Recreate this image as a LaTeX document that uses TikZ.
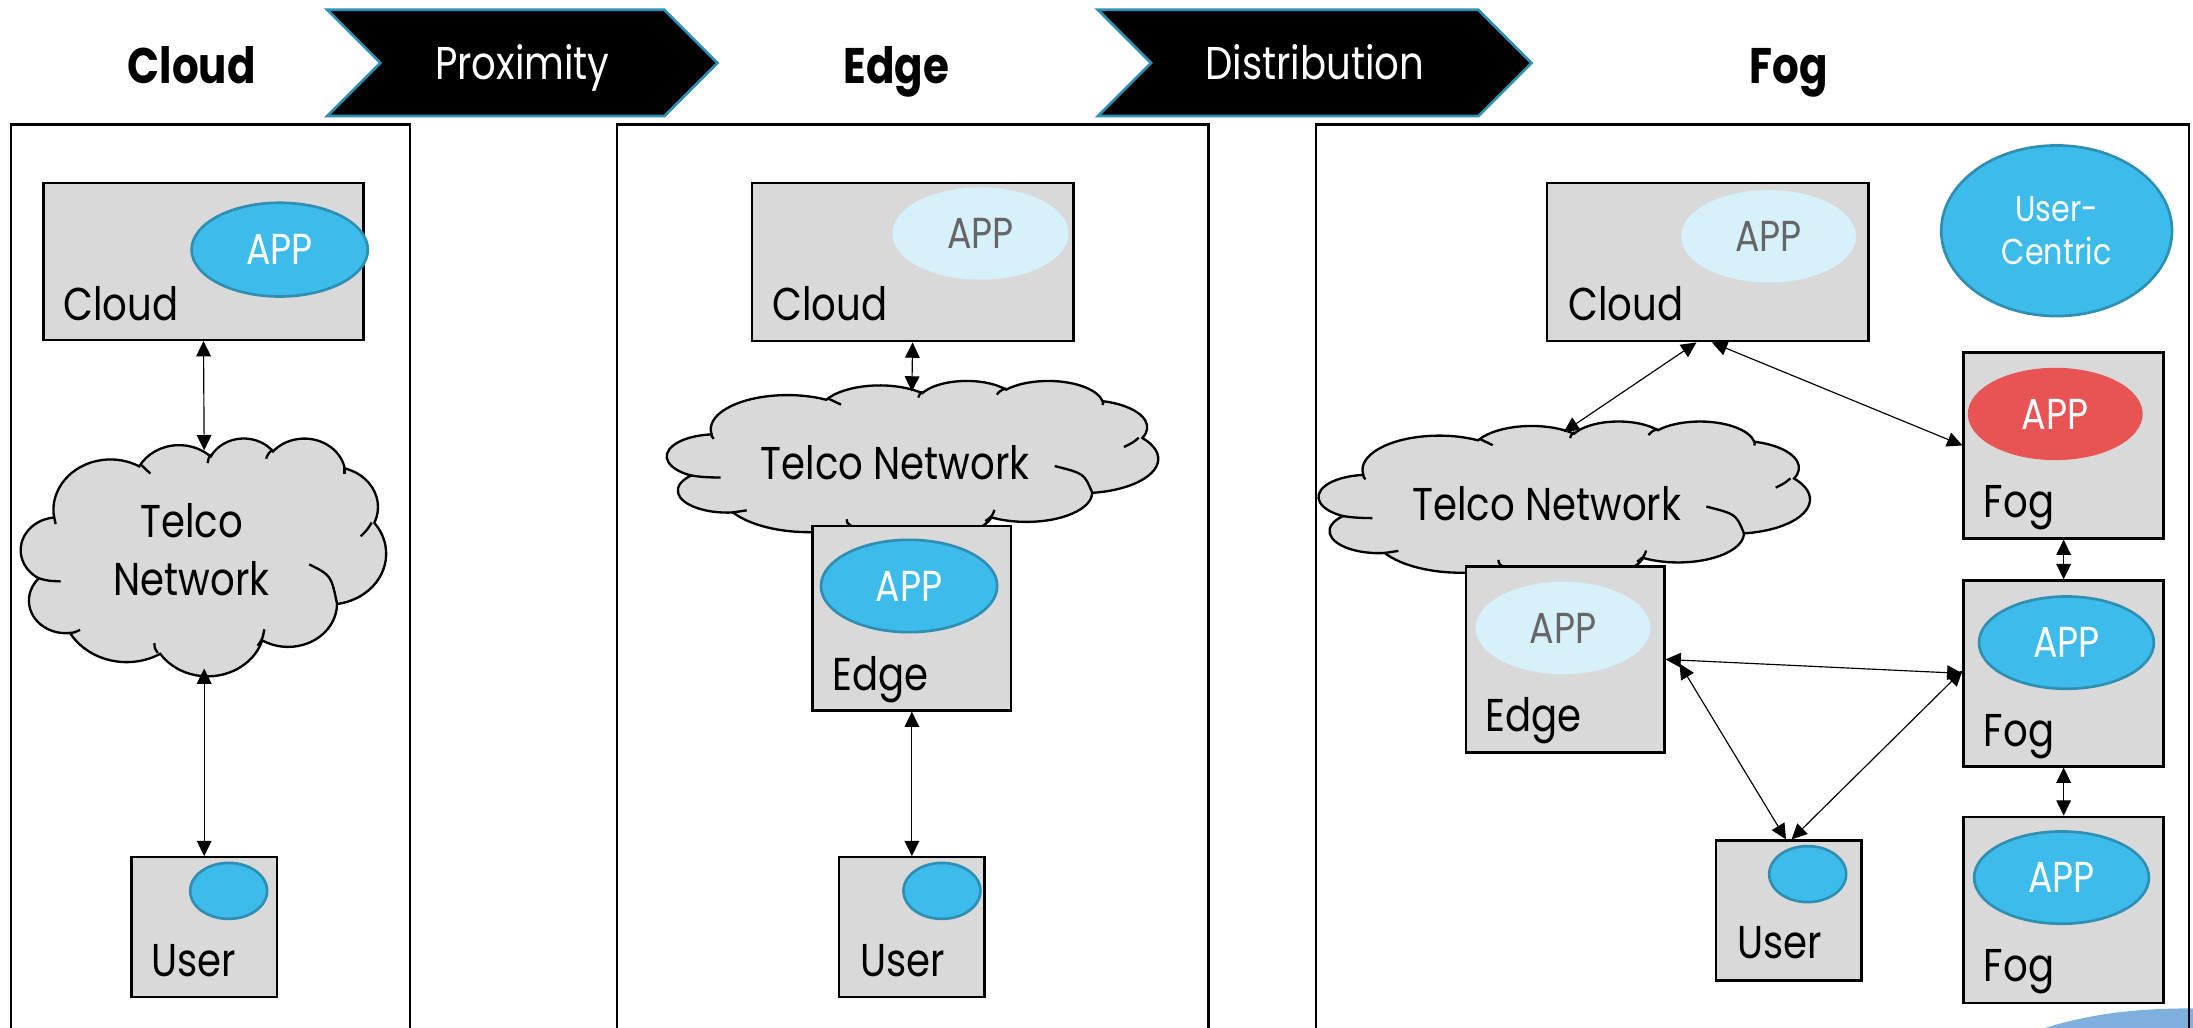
\documentclass[tikz,border=0pt]{standalone}
\usepackage{fontspec}
\setmainfont[FakeStretch=0.84]{Poppins}
\usetikzlibrary{arrows.meta,shapes.geometric}

\definecolor{boxgray}{HTML}{D9D9D9}
\definecolor{appblue}{HTML}{3DBCEC}
\definecolor{appedge}{HTML}{2E8FB3}
\definecolor{applight}{HTML}{D7F1FB}
\definecolor{appred}{HTML}{E85454}
\definecolor{apptext}{HTML}{666666}
\definecolor{cornerblue}{HTML}{7EB0DE}

\def\ux{0.4196pt}
\newcommand{\puff}[4]{
  arc[x radius=#1, y radius=#2,
      start angle={atan2(#1*sin(#3),#2*cos(#3))},
      delta angle={Mod(atan2(#1*sin(#3+#4),#2*cos(#3+#4))-atan2(#1*sin(#3),#2*cos(#3)),360)}]
}
\newcommand{\telco}[4]{
  \begin{scope}[shift={(#1,#2)},xscale=#3/432,yscale=#4/432,line width=.7pt]
    \draw[fill=boxgray] (39,143.7)
      \puff{67.53}{91.90}{-190.49}{123.78}
      \puff{53.33}{72.67}{-144.10}{89.95}
      \puff{43.65}{59.45}{-145.81}{99.72}
      \puff{48.57}{65.95}{-130.99}{117.24}
      \puff{53.33}{72.73}{-78.71}{109.03}
      \puff{67.75}{92.20}{-46.27}{130.27}
      \puff{57.85}{78.67}{0.63}{114.03}
      \puff{67.52}{92.15}{22.45}{115.17}
      \puff{77.20}{105.43}{66.24}{75.71}
      \puff{43.60}{59.18}{-274.94}{146.74}
      \puff{43.45}{59.45}{-246.83}{152.52}
      -- cycle;
    % the small inner ticks of the outline
    \draw (142,49) .. controls (148,56) .. (153,65);
    \draw (39,142) .. controls (39,150) .. (41,157);
    \draw (20,255) .. controls (32,260) .. (47,261);
    \draw (57,355) .. controls (63,354) .. (70,349);
    \draw (162,391) .. controls (158,382) .. (158,373);
    \draw (280,378) .. controls (286,365) .. (288,348);
    \draw (374,301) .. controls (367,250) .. (341,230);
    \draw (415,154) .. controls (410,167) .. (402,179);
    \draw (383,53) .. controls (384,60) .. (383,66);
    \draw (298,21) .. controls (293,28) .. (290,38);
    \draw (225,30) .. controls (222,37) .. (221,46);
  \end{scope}
}
\newcommand{\banner}[3]{
  \fill[black,draw=appedge,line width=.8pt] (#1,7) -- (#2-38,7) -- (#2,45) -- (#2-38,83) -- (#1,83) -- (#1+38,45) -- cycle;
  \node[txt,white,anchor=base] (#3) at ({(#1+#2)/2},57) {#3};
}

\tikzset{
  txt/.style={inner sep=0pt,font=\fontsize{13.8}{17.2}\selectfont},
  label/.style={txt,anchor=base west},
  head/.style={inner sep=0pt,anchor=base,font=\fontsize{15}{18}\selectfont\bfseries},
  boxnode/.style={draw,fill=boxgray,line width=.7pt,inner sep=0pt},
  app/.style={ellipse,draw=appedge,fill=appblue,line width=.8pt,inner sep=0pt,text=white,
              font=\fontsize{13}{15}\selectfont},
  applite/.style={app,draw=none,fill=applight,text=apptext},
  apphot/.style={app,draw=none,fill=appred},
  appdot/.style={ellipse,draw=appedge,fill=appblue,line width=.8pt,minimum width=55*\ux,minimum height=40*\ux},
}
\newcommand{\boxat}[5]{
  \node[boxnode,minimum width=#3*\ux,minimum height=#4*\ux] (#5) at (#1,#2) {};
}
\newcommand{\appat}[6]{
  \node[#1,minimum width=#4*\ux,minimum height=#5*\ux] (#6) at (#2,#3) {APP};
}

\begin{document}
\begin{tikzpicture}[x=\ux,y=-\ux,>={Triangle[length=4.6pt,width=4.4pt]},line width=.35pt]
  \useasboundingbox (0,0) rectangle (1568,735);

  % corner of the slide behind
  \fill[cornerblue] (1462,735) .. controls (1495,725) and (1525,721) .. (1568,721) -- (1568,735) -- cycle;

  % headings
  \node[head] (headcloud) at (137,59.5) {Cloud};
  \node[head] (headedge)  at (641,59.5) {Edge};
  \node[head] (headfog)   at (1279,59.5) {Fog};
  \banner{234}{513}{Proximity}
  \banner{785}{1095}{Distribution}

  % panels, open at the bottom of the page
  \draw[line width=.7pt] (8,735) -- (8,89) -- (293,89) -- (293,735);
  \draw[line width=.7pt] (441,735) -- (441,89) -- (864,89) -- (864,735);
  \draw[line width=.7pt] (941,735) -- (941,89) -- (1565,89) -- (1565,735);

  % cloud only
  \boxat{145.5}{187}{229}{112}{cloudA}
  \appat{app}{200}{178.5}{126}{67}{appA}
  \node[label] (cloudAtxt) at (45,229) {Cloud};
  \telco{15}{313}{261}{170}
  \node[txt,align=center] (telcoA) at (137,393) {Telco\\Network};
  \coordinate (telcoAtop) at (146,322);
  \coordinate (telcoAbot) at (146,478);
  \boxat{146}{663}{104}{100}{userA}
  \node[appdot] (dotA) at (163.5,637) {};
  \node[label] (userAtxt) at (108,698) {User};

  % edge
  \boxat{652.5}{187.5}{230}{113}{cloudB}
  \appat{applite}{701}{167}{126}{66}{appB}
  \node[label] (cloudBtxt) at (552,229) {Cloud};
  \telco{477}{272}{351}{115}
  \node[txt] (telcoB) at (640,331) {Telco Network};
  \coordinate (telcoBtop) at (652,280);
  \boxat{652}{442}{142}{132}{edgeB}
  \appat{app}{650}{419}{126}{66}{appC}
  \node[label] (edgeBtxt) at (595,494) {Edge};
  \boxat{652}{663}{104}{100}{userB}
  \node[appdot] (dotB) at (673.5,637) {};
  \node[label] (userBtxt) at (615,698) {User};

  % fog
  \boxat{1221}{187.5}{230}{113}{cloudC}
  \appat{applite}{1264.5}{169}{125}{66}{appD}
  \node[label] (cloudCtxt) at (1121,229) {Cloud};
  \node[ellipse,draw=appedge,fill=appblue,line width=.8pt,minimum width=165*\ux,minimum height=122*\ux,
        inner sep=0pt,text=white,align=center,font=\fontsize{10.8}{13}\selectfont] (central) at (1470.5,165) {User-\\Centric};
  \telco{943}{301}{351}{115}
  \node[txt] (telcoC) at (1106,360) {Telco Network};
  \coordinate (telcoCtop) at (1118,309);
  \boxat{1119}{471.5}{142}{133}{edgeC}
  \appat{applite}{1117.5}{449}{125}{66}{appE}
  \node[label] (edgeCtxt) at (1062,523) {Edge};
  \boxat{1279}{651}{104}{100}{userC}
  \node[appdot] (dotC) at (1292.5,625) {};
  \node[label] (userCtxt) at (1242,685) {User};
  \boxat{1475.5}{318.5}{143}{133}{fogA}
  \appat{apphot}{1469.5}{296}{125}{66}{appF}
  \node[label] (fogAtxt) at (1418,370) {Fog};
  \boxat{1475.5}{481.5}{143}{133}{fogB}
  \appat{app}{1477.5}{459.5}{125}{66}{appG}
  \node[label] (fogBtxt) at (1418,534) {Fog};
  \boxat{1475.5}{650.5}{143}{133}{fogC}
  \appat{app}{1474}{627.5}{125}{66}{appH}
  \node[label] (fogCtxt) at (1418,702) {Fog};

  % links
  \path[<->] (cloudA.south) edge (telcoAtop);
  \path[<->] (telcoAbot) edge (userA.north);
  \path[<->] (cloudB.south) edge (telcoBtop);
  \path[<->] (edgeB.south) edge (userB.north);
  \path[<->] ([xshift=-8*\ux]cloudC.south) edge (telcoCtop);
  \path[<->] ([xshift=3*\ux]cloudC.south) edge (fogA.west);
  \path[<->] (fogA.south) edge (fogB.north);
  \path[<->] (fogB.south) edge (fogC.north);
  \path[<->] (edgeC.east) edge (fogB.west);
  \path[<->] ([xshift=10*\ux,yshift=-3*\ux]edgeC.east) edge ([xshift=-2*\ux]userC.north);
  \path[<->] ([yshift=2*\ux]fogB.west) edge ([xshift=2*\ux]userC.north);
\end{tikzpicture}
\end{document}
